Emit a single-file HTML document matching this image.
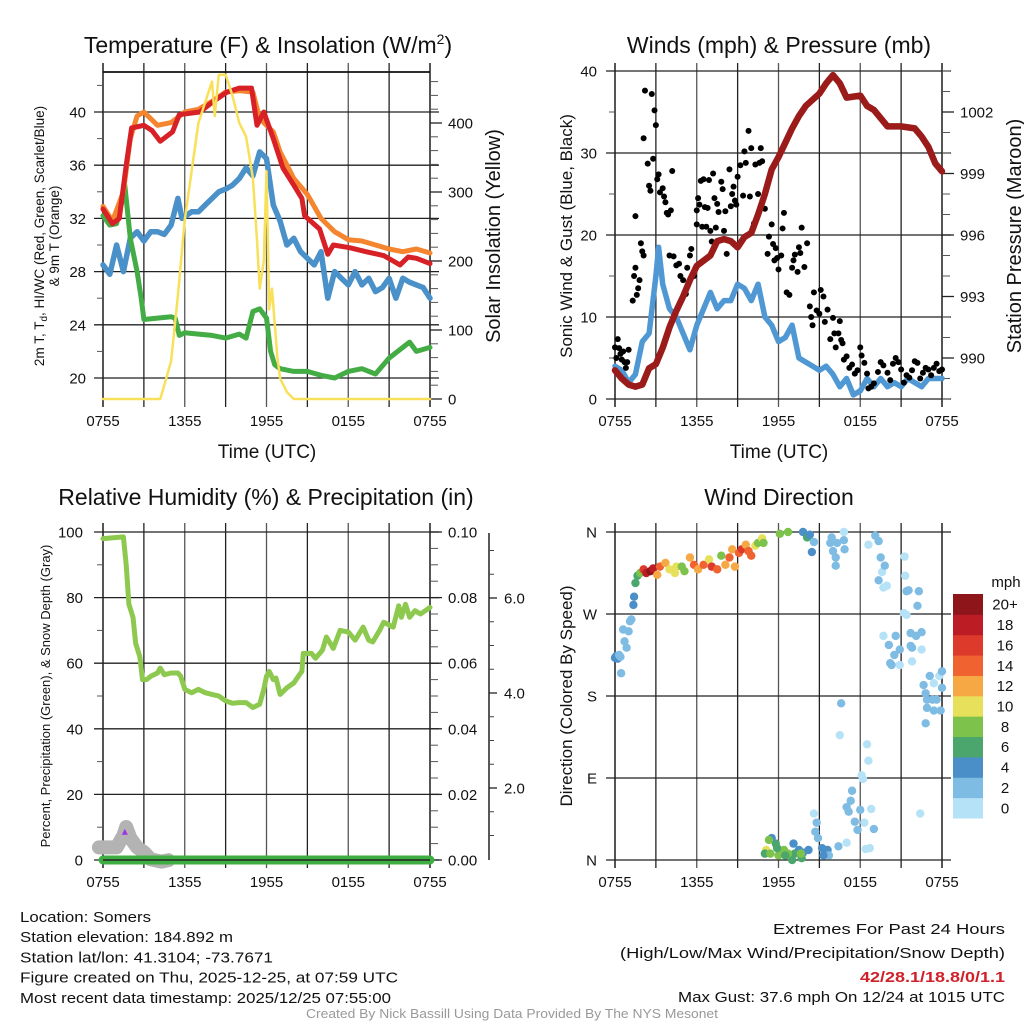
<!DOCTYPE html>
<html><head><meta charset="utf-8"><style>
html,body{margin:0;padding:0;background:#fff}
svg{display:block;font-family:"Liberation Sans",sans-serif}
</style></head><body>
<svg id="c" width="1024" height="1024" viewBox="0 0 1024 1024" xmlns="http://www.w3.org/2000/svg">
<rect width="1024" height="1024" fill="#fff"/>
<g id="g"></g>
</svg>
<script>
// ---------- DATA (hours since 0755 UTC) ----------
const xTickLabels = ["0755","1355","1955","0155","0755"];
const tempTicks = [20,24,28,32,36,40];
const solarTicks = [0,100,200,300,400];
const windTicks = [0,10,20,30,40];
const presTicks = [990,993,996,999,1002];
const rhTicks = [0,20,40,60,80,100];
const precipTicks = ["0.00","0.02","0.04","0.06","0.08","0.10"];
const snowTicks = [2.0,4.0,6.0];
const dirLabels = ["N","E","S","W","N"];
const speedBins = ["0","2","4","6","8","10","12","14","16","18","20+"];
const speedColors = ["#b5e2f7","#7fbce4","#4a8fc7","#4aa66c","#7cc24b","#e7e05a","#f6a845","#f06230","#de3a2c","#bc1d25","#8e161b"];

const redT = [[0,32.7],[0.7,31.6],[1.2,32],[1.7,36],[2.1,38.8],[3,39.0],[3.6,38.6],[4.2,37.8],[5.1,38.5],[5.6,39.8],[7.1,40.0],[8.1,40.8],[9.1,41.5],[10,41.8],[10.9,41.8],[11.3,39],[11.8,40],[12.5,38],[13.2,35.8],[14,34.5],[14.6,33.5],[14.8,32.2],[15.9,31.2],[16.5,29.3],[16.9,30],[18.1,29.8],[19.3,29.5],[20.6,29.2],[21.3,28.8],[21.8,28.5],[22.4,29.1],[23,29],[24,28.6]];
const orangeT = [[0,32.9],[0.7,31.8],[1.5,34],[2,38],[2.5,39.7],[3,40],[4,39],[5,39.2],[6,40],[7,40.2],[8,40.8],[9,41.5],[10,41.6],[11,41.5],[11.5,39.5],[12.5,38.5],[13,37],[14,35],[15,33.8],[16,32],[17,31],[18,30.4],[19,30.3],[20,30],[21,29.7],[22,29.5],[23,29.7],[24,29.4]];
const blueT = [[0,28.5],[0.5,27.8],[1,30],[1.5,28],[2,30.5],[2.5,31],[3,30.3],[3.5,31],[4,31],[4.5,30.8],[5,31.5],[5.5,33.5],[5.8,32],[6.5,32.5],[7,32.5],[7.5,33],[8,33.5],[8.5,34],[9,34.2],[9.5,34.5],[10,35],[10.5,35.8],[11,35.2],[11.5,37],[12,36.5],[12.5,33],[13,31.8],[13.5,30],[14,30.5],[14.5,29.5],[15,29],[15.5,28.5],[16,29.5],[16.5,26],[17,28],[17.5,27.5],[18,27],[18.5,28],[19,27],[19.5,27.5],[20,26.5],[20.5,26.8],[21,27.5],[21.5,26],[22,27.5],[22.5,27.2],[23,27],[23.5,26.8],[24,26]];
const greenT = [[0,32.2],[0.5,31.5],[1,31.6],[1.4,33.3],[1.6,34.5],[2,30.5],[2.5,28],[2.8,26],[3,24.4],[4,24.5],[5,24.6],[5.3,24.5],[5.6,23.2],[6,23.4],[7,23.3],[8,23.2],[9,23],[10,23.3],[10.5,23],[11,25],[11.5,25.2],[12,24.5],[12.3,22],[12.6,21],[13,20.7],[14,20.5],[15,20.5],[16,20.2],[17,20],[18,20.5],[19,20.7],[20,20.3],[21,21.5],[22,22.3],[22.5,22.7],[23,22.0],[24,22.3]];
const solar = [[0,0],[4.2,0],[4.5,20],[5,55],[5.5,150],[6,260],[6.5,330],[7,400],[7.5,430],[8,460],[8.2,410],[8.5,470],[9,470],[9.5,440],[10,400],[10.5,380],[11,320],[11.3,230],[11.5,160],[11.8,200],[12,330],[12.2,130],[12.4,160],[12.8,60],[13,30],[13.5,10],[14,0],[24,0]];

const windSpd = [[0,4],[0.5,3.5],[1,2],[1.5,3],[2,7],[2.5,8],[3,15],[3.2,18.5],[3.5,14],[4,11],[4.5,10],[5,8],[5.5,6],[6,9],[6.5,11],[7,13],[7.5,11],[8,12],[8.5,12],[9,14],[9.5,13.5],[10,12],[10.5,14],[11,10],[11.5,9],[12,7],[12.5,7.5],[13,9],[13.5,5],[14,4.5],[14.5,4],[15,3.5],[15.5,4],[16,3],[16.5,1.5],[17,2.5],[17.5,0.5],[18,1],[18.5,2.5],[19,1.5],[19.5,2.5],[20,1.5],[20.5,2],[21,1.5],[21.5,2.5],[22,2],[22.5,1.5],[23,2.5],[24,2.5]];
const pressure = [[0,989.4],[0.5,989.0],[1,988.7],[1.5,988.6],[2,988.7],[2.5,989.5],[3,989.7],[3.5,990.5],[4,991.5],[4.5,992.3],[5,993],[5.5,993.8],[6,994.5],[7,995],[7.5,995.7],[8,995.8],[8.5,995.7],[9,995.4],[9.5,995.9],[10,996.1],[10.5,997],[11,998],[11.5,999.2],[12,999.8],[12.5,1000.5],[13,1001.2],[13.5,1001.8],[14,1002.3],[15,1002.9],[15.5,1003.4],[16,1003.8],[16.5,1003.4],[17,1002.7],[18,1002.8],[18.5,1002.3],[19,1002.1],[20,1001.3],[21,1001.3],[22,1001.2],[22.5,1000.8],[23,1000.3],[23.5,999.5],[24,999.1]];
const gusts = [[0,6.3],[0.1,5],[0.2,7.3],[0.3,6.2],[0.4,5.5],[0.5,4.8],[0.6,5.8],[0.7,4.5],[0.8,3.8],[0.9,4.5],[1.0,6],[1.3,12],[1.4,15],[1.5,16],[1.6,12.7],[1.7,13.5],[1.8,14.5],[1.9,19],[2.0,18],[2.1,17.5],[1.5,22.3],[2.1,31.8],[2.2,37.6],[2.4,28.7],[2.5,26],[2.6,25.4],[2.7,37.2],[2.8,29.3],[2.9,35.2],[3.0,33.4],[3.1,26.8],[3.2,27.4],[3.3,25.2],[3.5,25.7],[3.6,24.7],[3.7,24],[3.8,22.7],[3.9,22.5],[4.1,23],[4.2,27.8],[4.0,17.5],[4.3,17.4],[4.5,16.3],[4.7,16.5],[4.8,15],[5.0,14.5],[5.2,12.8],[5.3,16],[5.5,17.5],[5.6,18.3],[5.8,15],[6.0,23],[6.1,24.5],[6.2,23.7],[6.0,21.3],[6.3,26.6],[6.4,21],[6.5,26.8],[6.6,23.4],[6.7,21],[6.8,23.3],[6.9,26.7],[7.0,20.5],[7.1,19.2],[7.2,27.5],[7.3,24.5],[7.4,20.9],[7.5,23.8],[7.6,22.8],[7.8,26.5],[7.9,25.6],[8.0,20.5],[8.1,22.9],[8.2,17.7],[8.4,28],[8.5,23.5],[8.6,25],[8.7,25.9],[8.8,24.2],[8.9,23.7],[9.0,27.1],[9.2,28.5],[9.4,24.8],[9.5,30.2],[9.6,28.8],[9.8,32.7],[9.9,24.7],[10.0,30.6],[10.2,21.4],[10.3,28.6],[10.5,25],[10.6,28.8],[10.7,30.6],[10.8,29],[11.0,23.2],[11.2,17.7],[11.3,19.8],[11.5,21.3],[11.6,18.9],[11.7,16.9],[11.8,18.4],[11.9,17.2],[12.0,15.8],[12.2,17.5],[12.3,20.8],[12.4,22.7],[12.6,13],[12.8,12.7],[13.0,16],[13.1,16.9],[13.2,17.6],[13.4,15.5],[13.5,18.5],[13.6,17.8],[13.7,20.9],[13.9,16.1],[14.1,19],[14.3,11.3],[14.4,10],[14.5,9],[14.6,13],[14.8,10.8],[15.0,10.4],[15.1,13.3],[15.3,12.5],[15.4,9.4],[15.6,10.9],[15.8,7.3],[16.0,9.9],[16.1,8],[16.2,6.3],[16.4,8],[16.5,9.5],[16.6,7.2],[16.7,6.8],[16.8,4.8],[17.0,5.2],[17.2,3.8],[17.4,4.2],[17.6,3.1],[17.8,3.5],[18.0,6.3],[18.1,5.3],[18.3,4.4],[18.5,3.1],[18.6,1.3],[18.8,1.5],[19.0,1.9],[19.3,3.3],[19.5,4.5],[19.7,4.1],[20.0,3.2],[20.2,2.3],[20.4,4.3],[20.6,5],[20.8,4.5],[21.0,3.6],[21.2,2],[21.4,2.9],[21.6,2.6],[21.8,3.5],[22.0,4.6],[22.2,4.4],[22.4,2.5],[22.6,3.2],[22.8,3.8],[23.0,3.6],[23.2,2.9],[23.4,3.8],[23.6,4.3],[23.8,3.4],[24.0,3.6]];

const rh = [[0,98],[1.5,98.5],[1.7,90],[1.9,78],[2.2,74],[2.4,66],[2.7,62],[2.9,55],[3.2,55],[3.5,56],[4,57],[4.2,58.5],[4.5,56.5],[5,57],[5.5,57],[5.7,56],[6,52],[6.5,51],[7,52],[7.5,51],[8,50.5],[8.5,50],[9,48.5],[9.5,47.8],[10,48],[10.5,48],[11,46.5],[11.5,47.5],[11.8,52],[12,56],[12.2,57.5],[12.5,55],[12.7,55.5],[13,50.5],[13.5,52.5],[14,54],[14.5,57],[14.6,57.5],[14.7,63],[15.3,63],[15.6,61.5],[16.1,64],[16.4,68],[16.9,64.5],[17.4,70],[18,69.5],[18.5,67],[19.1,71],[19.5,67],[19.8,66.5],[20.3,70],[20.6,72.5],[21.3,71],[21.7,77.5],[21.9,74],[22.2,78],[22.5,74],[22.9,76],[23.3,75],[24,77]];
const precip = [[0,0],[24,0]];
const snowDepth = [[-0.3,0.75],[1.0,0.75],[1.5,1.0],[1.7,1.18],[2.0,0.95],[2.5,0.75],[3.0,0.65],[3.5,0.5],[4.3,0.45],[4.8,0.48]];

const windDir = [[0,222,4],[0.1,224,4],[0.2,221,4],[0.3,225,3],[0.4,223,3],[0.45,205,2],[0.7,240,2],[1,251,2],[1.1,262,2],[1.2,264,2],[0.6,253,2],[0.85,233,2],[1.35,280,4],[1.4,289,4],[1.5,304,6],[1.65,312,6],[1.85,315,8],[2.1,319,16],[2.3,315,18],[2.6,317,20],[2.8,320,18],[3.1,313,12],[3.3,322,14],[3.7,326,12],[4.0,319,10],[4.4,315,10],[4.5,322,10],[4.9,322,8],[5.1,317,8],[5.5,332,12],[5.8,324,14],[6.1,319,12],[6.5,324,14],[6.9,330,10],[7.1,322,16],[7.5,319,14],[7.8,334,8],[8.1,324,12],[8.4,332,14],[8.6,341,12],[8.8,322,12],[9.1,337,14],[9.3,341,16],[9.6,346,12],[9.8,339,14],[10,334,14],[10.3,345,10],[10.5,348,8],[10.8,353,10],[10.9,348,8],[12.1,358,8],[12.7,360,8],[13.8,360,4],[14.1,354,6],[14.3,357,4],[14.45,338,4],[14.6,349,3],[15.8,348,2],[15.9,354,2],[16,339,2],[16.2,332,2],[16.3,348,2],[16.2,323,2],[16.8,360,1],[16.85,341,2],[16.8,351,2],[18.6,346,1],[19.1,356,2],[19.35,350,2],[19.5,332,2],[19.6,316,1],[19.8,323,2],[19.35,307,2],[19.7,299,1],[19.95,301,1],[21.25,333,1],[21.3,312,1],[21.4,295,2],[21.55,296,2],[22.2,279,2],[22.3,295,2],[21.2,271,1],[21.4,269,1],[19.7,246,1],[20.6,246,2],[20.1,236,2],[20.5,225,2],[20.9,231,2],[20.2,216,2],[20.3,214,2],[20.9,214,1],[21.7,249,2],[22.1,246,2],[21.7,235,2],[22.5,250,2],[21.8,218,1],[22.5,231,1],[21.8,233,2],[23.1,202,2],[23.8,202,1],[24,207,2],[22.65,192,2],[23.4,194,1],[22.8,183,2],[22.9,176,2],[23.3,176,2],[23.6,176,2],[24,189,2],[22.9,167,2],[23.4,164,2],[23.9,164,2],[22.8,150,2],[22.4,51,1],[16.6,172,3],[16.5,137,1],[18.5,127,1],[18.6,109,1],[18.1,93,1],[18.2,89,1],[17.4,76,3],[17.3,65,2],[17,58,3],[17.15,53,2],[18,55,2],[18.8,56,1],[17.6,42,2],[17.8,33,2],[18.3,41,1],[19,34,2],[17,19,1],[16.4,15,2],[18.4,12,1],[18.7,13,1],[14.6,51,1],[14.8,41,3],[14.7,31,3],[14.9,24,3],[15.2,13,4],[15.6,11,4],[15.7,5,3],[15.3,5,4],[14.2,11,4],[13.8,8,4],[13.5,11,4],[13.1,18,4],[13.2,7,6],[13,0,6],[12.7,7,8],[12.4,11,8],[12,5,8],[11.8,18,6],[11.5,24,4],[11.3,22,8],[11.1,11,10],[11,7,6],[11.4,7,8],[11.9,13,6],[12.5,5,6],[13.7,2,6],[13.65,7,8]];

// ---------- DRAWING ----------
const NS="http://www.w3.org/2000/svg";
const root=document.getElementById('g');
function el(tag,attrs,parent,txt){const e=document.createElementNS(NS,tag);for(const k in attrs)e.setAttribute(k,attrs[k]);if(txt!==undefined)e.textContent=txt;(parent||root).appendChild(e);return e;}
function lin(d0,d1,r0,r1){return v=>r0+(v-d0)*(r1-r0)/(d1-d0);}
function grp(name){const g=el('g',{},root);return g;}

function frame(P,name){
  const g=grp(name+'-grid');
  for(let i=0;i<=8;i++){const x=P.x0+(P.x1-P.x0)*i/8;
    el('line',{x1:x,x2:x,y1:P.y0-9,y2:P.y1+8,stroke:i%2?'#222':'#555','stroke-width':(i==0||i==8)?2:1.3},g);}
  for(let i=0;i<5;i++){const x=P.x0+(P.x1-P.x0)*i/4;
    const t=el('text',{x:x,y:P.y1+27,'font-size':15,'text-anchor':'middle',fill:'#111'},g,xTickLabels[i]);
    }
  if(P.top) el('line',{x1:P.x0,x2:P.x1,y1:P.y0,y2:P.y0,stroke:'#111','stroke-width':1.5},g);
  return g;
}
function hgrid(g,P,vals,ys,labels,lx){
  vals.forEach((v,i)=>{const y=ys(v);
    el('line',{x1:P.x0-9,x2:P.x1+9,y1:y,y2:y,stroke:'#222','stroke-width':1.3},g);
    const t=el('text',{x:lx,y:y+5.5,'font-size':15,'text-anchor':'end',fill:'#111'},g,labels?labels[i]:v);
    });
}
function rightTicks(g,P,vals,ys,labels,minor){
  minor.forEach(v=>{const y=ys(v);el('line',{x1:P.x1,x2:P.x1+8,y1:y,y2:y,stroke:'#555','stroke-width':1},g);});
  vals.forEach((v,i)=>{const y=ys(v);el('line',{x1:P.x1,x2:P.x1+12,y1:y,y2:y,stroke:'#222','stroke-width':1.3},g);
    const t=el('text',{x:P.x1+18,y:y+5.5,'font-size':15,fill:'#111'},g,labels?labels[i]:v);
    });
}
function line(data,xs,ys,color,w,name){
  const p=el('polyline',{points:data.map(d=>xs(d[0]).toFixed(1)+','+ys(d[1]).toFixed(1)).join(' '),fill:'none',stroke:color,'stroke-width':w,'stroke-linejoin':'round','stroke-linecap':'round'});
  return p;
}
function title(x,y,txt,name,size){const t=el('text',{x:x,y:y,'font-size':size||23,'text-anchor':'middle',fill:'#111'},root,txt);return t;}
function vtitle(x,y,txt,name,size){const t=el('text',{x:0,y:0,'font-size':size,'text-anchor':'middle',fill:'#111',transform:`translate(${x},${y}) rotate(-90)`},root,txt);return t;}
function range(a,b,s){const r=[];for(let v=a;v<=b+1e-9;v+=s)r.push(+v.toFixed(4));return r;}

// Panel 1: Temperature
{
 const P={x0:103,x1:430,y0:72,y1:399,top:true};
 const xs=lin(0,24,P.x0,P.x1), ys=lin(20,40,378,112), ss=lin(0,400,399,123);
 const g=frame(P,'temperature');
 hgrid(g,P,tempTicks,ys,null,86);
 rightTicks(g,P,solarTicks,ss,null,range(20,460,20).filter(v=>v%100));
 range(18,43,2).filter(v=>v%4).forEach(v=>{const y=ys(v);if(y>P.y0&&y<P.y1)el('line',{x1:P.x0-6,x2:P.x0,y1:y,y2:y,stroke:'#555'},g);});
 line(blueT,xs,ys,'#4a90c9',5.5,'windchill-line');
 line(greenT,xs,ys,'#43ac45',5,'dewpoint-line');
 line(orangeT,xs,ys,'#f5852f',5,'temp-9m-line');
 line(redT,xs,ys,'#d82027',5,'temp-2m-line');
 line(solar,xs,ss,'#f8e05a',2.5,'solar-insolation-line');
 el('line',{x1:P.x0,x2:P.x1,y1:P.y0,y2:P.y0,stroke:'#111','stroke-width':1.5});
 const t=title(268,53,'Temperature (F) & Insolation (W/m','temperature-title');
 el('tspan',{dy:-9,'font-size':14},t,'2');el('tspan',{dy:9},t,')');
 title(267,458,'Time (UTC)','temperature-x-title',19);
 const vt=vtitle(44,236,'','temperature-y-title',13.5);
 vt.textContent='2m T, T';el('tspan',{'font-size':10,dy:3},vt,'d');el('tspan',{dy:-3},vt,', HI/WC (Red, Green, Scarlet/Blue)');
 vtitle(59,236,'& 9m T (Orange)','temperature-y-title-2',13.5);
 vtitle(500,236,'Solar Insolation (Yellow)','solar-y-title',20);
}
// Panel 2: Winds
{
 const P={x0:615,x1:942,y0:72,y1:399,top:false};
 const xs=lin(0,24,P.x0,P.x1), ys=lin(0,40,399,71), ps=lin(990,1002,358,112);
 const g=frame(P,'winds');
 hgrid(g,P,windTicks,ys,null,597);
 range(5,35,10).forEach(v=>{el('line',{x1:P.x0-6,x2:P.x0,y1:ys(v),y2:ys(v),stroke:'#555'},g);});
 rightTicks(g,P,presTicks,ps,null,range(988,1004,1).filter(v=>(v-990)%3));
 line(windSpd,xs,ys,'#4f98d4',5.5,'sonic-wind-line');
 const dg=grp('gust-points');
 gusts.forEach(d=>{const c=el('circle',{cx:xs(d[0]),cy:ys(d[1]),r:3,fill:'#000'},dg);});
 line(pressure,xs,ps,'#9b1b1b',6.5,'pressure-line');
 title(779,53,'Winds (mph) & Pressure (mb)','winds-title');
 title(779,458,'Time (UTC)','winds-x-title',19);
 vtitle(572,236,'Sonic Wind & Gust (Blue, Black)','wind-y-title',17);
 vtitle(1021,236,'Station Pressure (Maroon)','pressure-y-title',20);
}
// Panel 3: RH & precip
{
 const P={x0:103,x1:430,y0:532,y1:860,top:false};
 const xs=lin(0,24,P.x0,P.x1), ys=lin(0,100,860,532), sn=lin(2,4,788,693);
 const g=frame(P,'humidity');
 hgrid(g,P,rhTicks,ys,null,83);
 range(10,90,20).forEach(v=>{el('line',{x1:P.x0-6,x2:P.x0,y1:ys(v),y2:ys(v),stroke:'#555'},g);});
 rightTicks(g,P,range(0,100,20),ys,precipTicks,range(5,95,5).filter(v=>v%20));
 el('line',{x1:489,x2:489,y1:533,y2:860,stroke:'#222','stroke-width':1.5},g);
 range(0.5,7,0.5).forEach(v=>{const y=sn(v);if(y>533&&y<858)el('line',{x1:489,x2:494,y1:y,y2:y,stroke:'#444'},g);});
 snowTicks.forEach(v=>{const y=sn(v);el('line',{x1:489,x2:497,y1:y,y2:y,stroke:'#222','stroke-width':1.3},g);
   const t=el('text',{x:504,y:y+5.5,'font-size':15,fill:'#111'},g,v.toFixed(1));});
 line(snowDepth,xs,sn,'#b3b3b3',14,'snow-depth-line');
 const tri=el('polygon',{points:`${xs(1.6)-3},${sn(1.08)+3} ${xs(1.6)+3},${sn(1.08)+3} ${xs(1.6)},${sn(1.08)-3}`,fill:'#a033e0'});
 
 line(precip,xs,ys,'#3fae42',9,'precipitation-line');
 el('line',{x1:P.x0,x2:P.x1,y1:P.y1,y2:P.y1,stroke:'#222','stroke-width':1.5});
 line(rh,xs,ys,'#8dc84f',5,'relative-humidity-line');
 title(266,505,'Relative Humidity (%) & Precipitation (in)','humidity-title');
 vtitle(50,696,'Percent, Precipitation (Green), & Snow Depth (Gray)','humidity-y-title',13);
}
// Panel 4: Wind direction
{
 const P={x0:615,x1:942,y0:532,y1:860,top:false};
 const xs=lin(0,24,P.x0,P.x1), ys=lin(0,360,860,532);
 const g=frame(P,'wind-direction');
 hgrid(g,P,[0,90,180,270,360],ys,dirLabels,597);
 const dg=grp('direction-points');
 windDir.forEach(d=>{const bin=Math.min(10,Math.floor(d[2]/2));
   const c=el('circle',{cx:xs(d[0]),cy:ys(d[1]),r:4.2,fill:speedColors[bin]},dg);});
 title(779,505,'Wind Direction','wind-direction-title');
 vtitle(572,696,'Direction (Colored By Speed)','direction-y-title',17);
 const cb=grp('speed-colorbar');
 const bh=224/11;
 speedBins.forEach((lab,i)=>{const y=818-(i+1)*bh;
   const r=el('rect',{x:953,y:y,width:30,height:bh+0.5,fill:speedColors[i]},cb);
   const t=el('text',{x:1005,y:y+bh/2+5.5,'font-size':15,'text-anchor':'middle',fill:'#111'},cb,lab);});
 const m=el('text',{x:1006,y:587,'font-size':15,'text-anchor':'middle',fill:'#111'},cb,'mph');
}
// Footer
const leftLines=[["Location: Somers",131],["Station elevation: 184.892 m",213],["Station lat/lon: 41.3104; -73.7671",253],["Figure created on Thu, 2025-12-25, at 07:59 UTC",378],["Most recent data timestamp: 2025/12/25 07:55:00",371]];
leftLines.forEach((l,i)=>{const t=el('text',{x:20,y:922+i*20.2,'font-size':15,fill:'#111',textLength:l[1],lengthAdjust:'spacingAndGlyphs'},root,l[0]);});
const rightLines=[["Extremes For Past 24 Hours",232,934,'#111','normal'],["(High/Low/Max Wind/Precipitation/Snow Depth)",385,958,'#111','normal'],["42/28.1/18.8/0/1.1",145,982,'#d0202a','bold'],["Max Gust: 37.6 mph On 12/24 at 1015 UTC",327,1002,'#111','normal']];
rightLines.forEach(l=>{const t=el('text',{x:1005,y:l[2],'font-size':15,'text-anchor':'end',fill:l[3],'font-weight':l[4],textLength:l[1],lengthAdjust:'spacingAndGlyphs'},root,l[0]);});
const cr=el('text',{x:512,y:1018,'font-size':13,'text-anchor':'middle',fill:'#999',textLength:412,lengthAdjust:'spacingAndGlyphs'},root,'Created By Nick Bassill Using Data Provided By The NYS Mesonet');

</script>
</body></html>
